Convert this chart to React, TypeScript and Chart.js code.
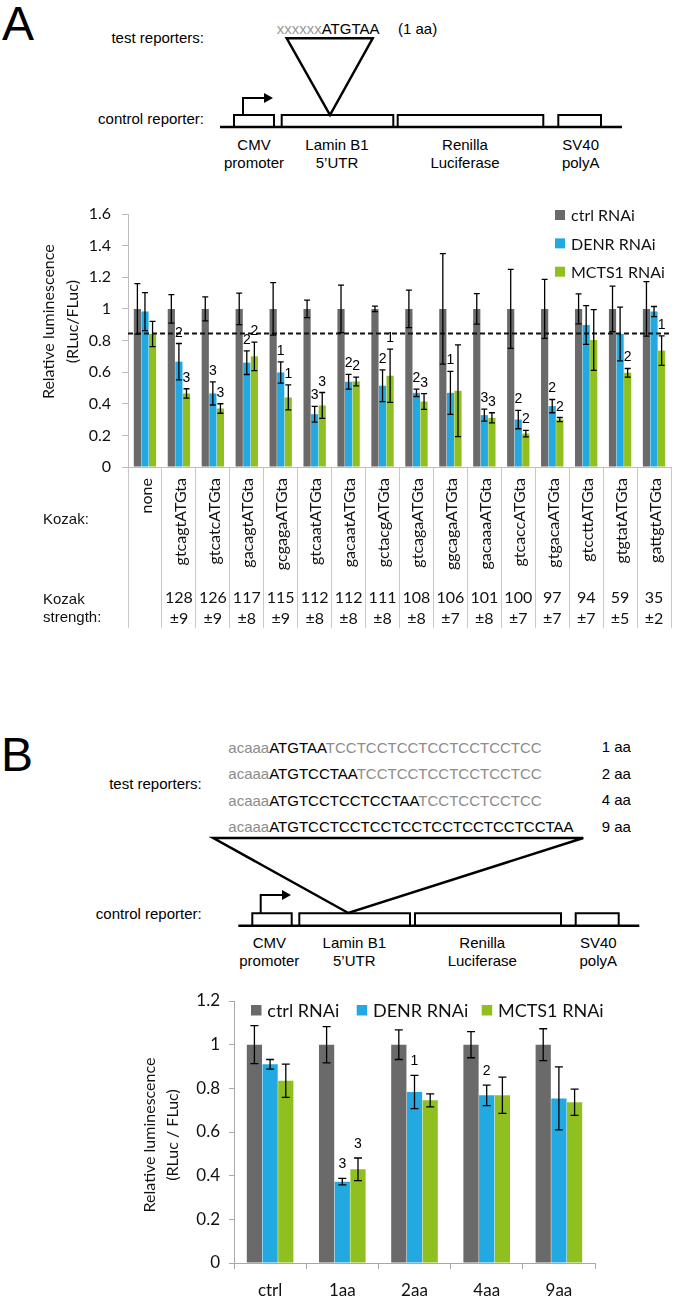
import React, { useEffect, useRef } from "react";
import { Chart, registerables } from "chart.js";
Chart.register(...registerables);

// ---------------- Panel A data ----------------
const kozakSeqs = ["none", "gtcagtATGta", "gtcatcATGta", "gacagtATGta", "gcgagaATGta", "gtcaatATGta", "gacaatATGta", "gctacgATGta", "gtcagaATGta", "ggcagaATGta", "gacaaaATGta", "gtcaccATGta", "gtgacaATGta", "gtccttATGta", "gtgtatATGta", "gattgtATGta"];
const kozakStrength = ["", "128", "126", "117", "115", "112", "112", "111", "108", "106", "101", "100", "97", "94", "59", "35"];
const kozakStrengthErr = ["", "±9", "±9", "±8", "±9", "±8", "±8", "±8", "±8", "±7", "±8", "±7", "±7", "±7", "±5", "±2"];
const seriesNames = ["ctrl RNAi", "DENR RNAi", "MCTS1 RNAi"];

const aCtrl = [1, 1, 1, 1, 1, 1, 1, 1, 1, 1, 1, 1, 1, 1, 1, 1];
const aCtrlErr = [0.16, 0.09, 0.076, 0.1, 0.166, 0.055, 0.15, 0.018, 0.118, 0.35, 0.097, 0.25, 0.187, 0.095, 0.144, 0.172];
const aDenr = [0.983, 0.666, 0.465, 0.66, 0.598, 0.334, 0.539, 0.514, 0.469, 0.469, 0.328, 0.3, 0.385, 0.898, 0.841, 0.983];
const aDenrErr = [0.12, 0.115, 0.073, 0.075, 0.067, 0.05, 0.047, 0.1, 0.023, 0.136, 0.038, 0.058, 0.042, 0.123, 0.17, 0.032];
const aMcts = [0.841, 0.465, 0.37, 0.7, 0.44, 0.389, 0.541, 0.577, 0.414, 0.482, 0.311, 0.211, 0.3, 0.803, 0.596, 0.736];
const aMctsErr = [0.08, 0.03, 0.03, 0.09, 0.079, 0.082, 0.028, 0.168, 0.05, 0.29, 0.032, 0.021, 0.013, 0.192, 0.027, 0.093];
const aCtrlMarks = ["", "", "", "", "", "", "", "", "", "", "", "", "", "", "", ""];
const aDenrMarks = ["", "2", "3", "2", "1", "3", "2", "2", "2", "1", "3", "2", "2", "", "", ""];
const aMctsMarks = ["", "3", "3", "2", "1", "3", "2", "1", "3", "", "3", "2", "2", "", "2", "1"];
const aThreshold = 0.845;
const aYTicks = { min: 0, max: 1.6, step: 0.2 };

// ---------------- Panel B data ----------------
const bCategories = ["ctrl", "1aa", "2aa", "4aa", "9aa"];
const bCtrl = [1, 1, 1, 1, 1];
const bCtrlErr = [0.087, 0.083, 0.068, 0.06, 0.073];
const bDenr = [0.91, 0.3725, 0.783, 0.768, 0.754];
const bDenrErr = [0.022, 0.015, 0.076, 0.047, 0.144];
const bMcts = [0.835, 0.429, 0.745, 0.768, 0.736];
const bMctsErr = [0.076, 0.052, 0.03, 0.083, 0.06];
const bCtrlMarks = ["", "", "", "", ""];
const bDenrMarks = ["", "3", "1", "2", ""];
const bMctsMarks = ["", "3", "", "", ""];
const bYTicks = { min: 0, max: 1.2, step: 0.2 };

const bSeqGrayStart = "acaaa";
const bSeqCoding = ["ATGTAA", "ATGTCCTAA", "ATGTCCTCCTCCTAA", "ATGTCCTCCTCCTCCTCCTCCTCCTCCTAA"];
const bSeqTail = ["TCCTCCTCCTCCTCCTCCTCC", "TCCTCCTCCTCCTCCTCC", "TCCTCCTCCTCC", ""];
const bSeqLen = ["1 aa", "2 aa", "4 aa", "9 aa"];

// ---------------- styles ----------------
const GRAY = "#6a6a6a";
const BLUE = "#22a9e1";
const GREEN = "#90c01f";
const COLORS = [GRAY, BLUE, GREEN];
const SANS = '"Liberation Sans", Arial, sans-serif';
const CAL = "Lato, sans-serif";

const fmtTick = (v: any) => String(Math.round(Number(v) * 10) / 10);

function errorBarPlugin(errs: number[][], marks: string[][], capHalf: number, gap: number, font: string) {
  return {
    id: "errbars",
    afterDatasetsDraw(chart: any) {
      const ctx = chart.ctx;
      const y = chart.scales.y;
      chart.data.datasets.forEach((ds: any, di: number) => {
        const meta = chart.getDatasetMeta(di);
        meta.data.forEach((bar: any, i: number) => {
          const v = ds.data[i] as number;
          const e = errs[di][i];
          const yt = y.getPixelForValue(v + e);
          const yb = y.getPixelForValue(v - e);
          ctx.save();
          ctx.strokeStyle = "#000";
          ctx.lineWidth = 1.3;
          ctx.beginPath();
          ctx.moveTo(bar.x, yt);
          ctx.lineTo(bar.x, yb);
          ctx.moveTo(bar.x - capHalf, yt);
          ctx.lineTo(bar.x + capHalf, yt);
          ctx.moveTo(bar.x - capHalf, yb);
          ctx.lineTo(bar.x + capHalf, yb);
          ctx.stroke();
          const m = marks[di][i];
          if (m) {
            ctx.fillStyle = "#000";
            ctx.font = font;
            ctx.textAlign = "center";
            ctx.textBaseline = "alphabetic";
            ctx.fillText(m, bar.x, yt - gap);
          }
          ctx.restore();
        });
      });
    },
  };
}

const dashPlugin = {
  id: "dash",
  afterDatasetsDraw(chart: any) {
    const ctx = chart.ctx;
    const y = chart.scales.y.getPixelForValue(aThreshold);
    const { left, right } = chart.chartArea;
    ctx.save();
    ctx.strokeStyle = "#111";
    ctx.lineWidth = 2;
    ctx.setLineDash([5, 3]);
    ctx.beginPath();
    ctx.moveTo(left, y);
    ctx.lineTo(right, y);
    ctx.stroke();
    ctx.restore();
  },
};

const tablePlugin = {
  id: "kozakTable",
  afterDraw(chart: any) {
    const ctx = chart.ctx;
    const t = chart.chartArea.bottom;
    const xs = chart.scales.x;
    ctx.save();
    ctx.fillStyle = "#111";
    ctx.font = `16px ${CAL}`;
    kozakSeqs.forEach((s, i) => {
      const cx = xs.getPixelForValue(i);
      ctx.save();
      ctx.translate(cx + 1.5, t + 11);
      ctx.rotate(-Math.PI / 2);
      ctx.textAlign = "right";
      ctx.textBaseline = "middle";
      ctx.fillText(s, 0, 0);
      ctx.restore();
      ctx.textAlign = "center";
      ctx.textBaseline = "middle";
      ctx.fillText(kozakStrength[i], cx, t + 131);
      ctx.fillText(kozakStrengthErr[i], cx, t + 152);
    });
    ctx.font = `15px ${SANS}`;
    ctx.textAlign = "left";
    ctx.textBaseline = "middle";
    ctx.fillText("Kozak:", 43, t + 53);
    ctx.fillText("Kozak", 43, t + 133);
    ctx.fillText("strength:", 43, t + 151);
    ctx.restore();
  },
};

const legendAPlugin = {
  id: "legendA",
  afterDraw(chart: any) {
    const ctx = chart.ctx;
    ctx.save();
    ctx.font = `16px ${CAL}`;
    ctx.textBaseline = "middle";
    ctx.textAlign = "left";
    chart.data.datasets.forEach((ds: any, i: number) => {
      const cy = 25 + i * 28.35;
      ctx.fillStyle = ds.backgroundColor;
      ctx.fillRect(555, cy - 5, 10, 10);
      ctx.fillStyle = "#111";
      ctx.fillText(ds.label, 571, cy + 1);
    });
    ctx.restore();
  },
};

function yTitlePlugin(lines: string[], xs: number[], cy: number, font: string) {
  return {
    id: "ytitle",
    afterDraw(chart: any) {
      const ctx = chart.ctx;
      ctx.save();
      ctx.font = font;
      ctx.fillStyle = "#111";
      ctx.textAlign = "center";
      ctx.textBaseline = "middle";
      lines.forEach((l, i) => {
        ctx.save();
        ctx.translate(xs[i], cy);
        ctx.rotate(-Math.PI / 2);
        ctx.fillText(l, 0, 0);
        ctx.restore();
      });
      ctx.restore();
    },
  };
}

const legendBPlugin = {
  id: "legendB",
  afterDraw(chart: any) {
    const ctx = chart.ctx;
    const sq = [251, 356.7, 481.7];
    ctx.save();
    ctx.font = `18px ${CAL}`;
    ctx.textBaseline = "middle";
    ctx.textAlign = "left";
    chart.data.datasets.forEach((ds: any, i: number) => {
      ctx.fillStyle = ds.backgroundColor;
      ctx.fillRect(sq[i], 25, 10.5, 10.5);
      ctx.fillStyle = "#111";
      ctx.fillText(ds.label, sq[i] + 16.3, 31);
    });
    ctx.restore();
  },
};

function ChartA() {
  const ref = useRef<HTMLCanvasElement>(null);
  useEffect(() => {
    const chart = new Chart(ref.current as HTMLCanvasElement, {
      type: "bar",
      data: {
        labels: kozakSeqs,
        datasets: [
          { label: seriesNames[0], data: aCtrl, backgroundColor: COLORS[0] },
          { label: seriesNames[1], data: aDenr, backgroundColor: COLORS[1] },
          { label: seriesNames[2], data: aMcts, backgroundColor: COLORS[2] },
        ],
      },
      options: {
        responsive: false,
        animation: false,
        devicePixelRatio: 1,
        layout: { padding: { top: 24, right: 4, bottom: 12, left: 0 } },
        plugins: { legend: { display: false }, tooltip: { enabled: false } },
        datasets: { bar: { categoryPercentage: 0.67, barPercentage: 0.95 } },
        scales: {
          x: {
            grid: { display: true, drawOnChartArea: false, drawTicks: true, tickLength: 161, offset: true, color: "#c8c8c8", lineWidth: 1 },
            border: { display: true, color: "#bdbdbd", width: 1 },
            ticks: { display: false },
            afterFit: (s: any) => { s.height = 161; },
          },
          y: {
            min: aYTicks.min,
            max: aYTicks.max,
            ticks: { stepSize: aYTicks.step, padding: 11, font: { family: CAL, size: 16 }, color: "#111", callback: fmtTick },
            grid: { drawOnChartArea: false, drawTicks: true, tickLength: 6, color: "#bdbdbd" },
            border: { display: true, color: "#bdbdbd", width: 1 },
            afterFit: (s: any) => { s.width = 128; },
          },
        },
      } as any,
      plugins: [
        dashPlugin,
        errorBarPlugin([aCtrlErr, aDenrErr, aMctsErr], [aCtrlMarks, aDenrMarks, aMctsMarks], 3, 7, `14px ${SANS}`),
        tablePlugin,
        legendAPlugin,
        yTitlePlugin(["Relative luminescence", "(RLuc/FLuc)"], [49, 72.7], 131.7, `16px ${CAL}`),
      ] as any,
    });
    return () => chart.destroy();
  }, []);
  return <canvas ref={ref} width={675} height={450} style={{ position: "absolute", left: 0, top: 190, width: 675, height: 450 }} />;
}

function ChartB() {
  const ref = useRef<HTMLCanvasElement>(null);
  useEffect(() => {
    const chart = new Chart(ref.current as HTMLCanvasElement, {
      type: "bar",
      data: {
        labels: bCategories,
        datasets: [
          { label: seriesNames[0], data: bCtrl, backgroundColor: COLORS[0] },
          { label: seriesNames[1], data: bDenr, backgroundColor: COLORS[1] },
          { label: seriesNames[2], data: bMcts, backgroundColor: COLORS[2] },
        ],
      },
      options: {
        responsive: false,
        animation: false,
        devicePixelRatio: 1,
        layout: { padding: { top: 21, right: 80, bottom: 0, left: 0 } },
        plugins: { legend: { display: false }, tooltip: { enabled: false } },
        datasets: { bar: { categoryPercentage: 0.652, barPercentage: 0.97 } },
        scales: {
          x: {
            grid: { display: true, drawOnChartArea: false, drawTicks: true, tickLength: 6, offset: true, color: "#a8a8a8" },
            border: { display: true, color: "#a8a8a8", width: 1 },
            ticks: { padding: 11, font: { family: CAL, size: 17 }, color: "#111" },
            afterFit: (s: any) => { s.height = 37; },
          },
          y: {
            min: bYTicks.min,
            max: bYTicks.max,
            ticks: { stepSize: bYTicks.step, padding: 9, font: { family: CAL, size: 17 }, color: "#111", callback: fmtTick },
            grid: { drawOnChartArea: false, drawTicks: true, tickLength: 5, color: "#a8a8a8" },
            border: { display: true, color: "#a8a8a8", width: 1 },
            afterFit: (s: any) => { s.width = 234; },
          },
        },
      } as any,
      plugins: [
        errorBarPlugin([bCtrlErr, bDenrErr, bMctsErr], [bCtrlMarks, bDenrMarks, bMctsMarks], 4, 10, `14px ${SANS}`),
        legendBPlugin,
        yTitlePlugin(["Relative luminescence", "(RLuc / FLuc)"], [150, 173], 155, `16px ${CAL}`),
      ] as any,
    });
    return () => chart.destroy();
  }, []);
  return <canvas ref={ref} width={675} height={320} style={{ position: "absolute", left: 0, top: 980, width: 675, height: 320 }} />;
}

function box(x1: number, x2: number, top: number, base: number) {
  return `M${x1},${base} L${x1},${top} L${x2},${top} L${x2},${base}`;
}

function Diagrams() {
  const t = { fontFamily: SANS, fill: "#000" } as any;
  return (
    <svg width={675} height={1300} style={{ position: "absolute", left: 0, top: 0 }}>
      {/* Panel A diagram */}
      <text x={2} y={40} fontSize={48} {...t}>A</text>
      <text x={204} y={37} fontSize={15} textAnchor="end" dominantBaseline="central" {...t}>test reporters:</text>
      <text x={276.7} y={28} fontSize={15} dominantBaseline="central" fontFamily={SANS}>
        <tspan fill="#9a9a9a">xxxxxx</tspan>
        <tspan fill="#000">ATGTAA</tspan>
      </text>
      <text x={398} y={28} fontSize={15} dominantBaseline="central" {...t}>(1 aa)</text>
      <polygon points="286.7,38.3 372.7,38.3 330,115" fill="none" stroke="#000" strokeWidth={2.5} />
      <text x={204} y={118} fontSize={15} textAnchor="end" dominantBaseline="central" {...t}>control reporter:</text>
      <line x1={220} y1={127} x2={622} y2={127} stroke="#000" strokeWidth={2.5} />
      <path d={[box(234, 274, 115, 127), box(281.7, 393.3, 115, 127), box(397.7, 543.3, 115, 127), box(558.3, 601, 115, 127)].join(" ")} fill="none" stroke="#000" strokeWidth={2} />
      <path d="M243,115 L243,98 L265,98" fill="none" stroke="#000" strokeWidth={2} />
      <polygon points="273,98 264,93 264,103" fill="#000" />
      {[["CMV", "promoter", 254], ["Lamin B1", "5’UTR", 337], ["Renilla", "Luciferase", 465], ["SV40", "polyA", 580.7]].map((l: any, i) => (
        <g key={i}>
          <text x={l[2]} y={144} fontSize={15} textAnchor="middle" dominantBaseline="central" {...t}>{l[0]}</text>
          <text x={l[2]} y={162.3} fontSize={15} textAnchor="middle" dominantBaseline="central" {...t}>{l[1]}</text>
        </g>
      ))}

      {/* Panel B diagram */}
      <text x={1} y={771} fontSize={48} {...t}>B</text>
      {bSeqCoding.map((c, i) => (
        <g key={i}>
          <text x={228.3} y={746.7 + i * 26.45} fontSize={15} dominantBaseline="central" fontFamily={SANS}>
            <tspan fill="#8c8c8c">{bSeqGrayStart}</tspan>
            <tspan fill="#000">{c}</tspan>
            <tspan fill="#8c8c8c">{bSeqTail[i]}</tspan>
          </text>
          <text x={601.7} y={746.7 + i * 26.45} fontSize={15} dominantBaseline="central" {...t}>{bSeqLen[i]}</text>
        </g>
      ))}
      <text x={201.7} y={783} fontSize={15} textAnchor="end" dominantBaseline="central" {...t}>test reporters:</text>
      <polygon points="213.3,838 583.3,838 348.3,913" fill="none" stroke="#000" strokeWidth={2.5} />
      <text x={201.7} y={913} fontSize={15} textAnchor="end" dominantBaseline="central" {...t}>control reporter:</text>
      <line x1={238.3} y1={925.7} x2={639.3} y2={925.7} stroke="#000" strokeWidth={2.5} />
      <path d={[box(252.3, 291.7, 913.3, 925.7), box(299.3, 410, 913.3, 925.7), box(415, 561, 913.3, 925.7), box(575.7, 618.7, 913.3, 925.7)].join(" ")} fill="none" stroke="#000" strokeWidth={2} />
      <path d="M260.7,913.3 L260.7,895 L283,895" fill="none" stroke="#000" strokeWidth={2} />
      <polygon points="291,895 282,890 282,900" fill="#000" />
      {[["CMV", "promoter", 269.3], ["Lamin B1", "5’UTR", 354.3], ["Renilla", "Luciferase", 482.3], ["SV40", "polyA", 598.3]].map((l: any, i) => (
        <g key={i}>
          <text x={l[2]} y={942.3} fontSize={15} textAnchor="middle" dominantBaseline="central" {...t}>{l[0]}</text>
          <text x={l[2]} y={960.7} fontSize={15} textAnchor="middle" dominantBaseline="central" {...t}>{l[1]}</text>
        </g>
      ))}
    </svg>
  );
}

export default function App() {
  return (
    <div style={{ position: "absolute", left: 0, top: 0, width: 675, height: 1300, background: "#fff", overflow: "hidden" }}>
      <Diagrams />
      <ChartA />
      <ChartB />
    </div>
  );
}
